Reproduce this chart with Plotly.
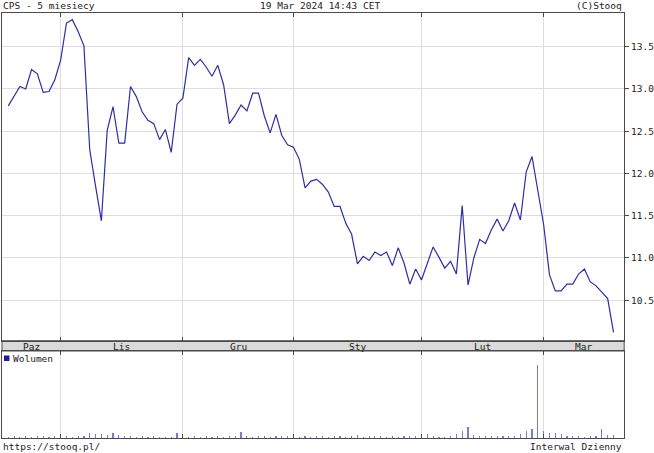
import pandas as pd
import plotly.graph_objects as go

# ---- data ----
close_prices = [
    12.80, 12.91, 13.03, 13.00, 13.23, 13.18, 12.96, 12.97, 13.11, 13.34,
    13.78, 13.82, 13.68, 13.51, 12.28, 11.85, 11.44, 12.51, 12.79, 12.36,
    12.36, 13.03, 12.91, 12.73, 12.63, 12.59, 12.40, 12.52, 12.25, 12.82,
    12.89, 13.37, 13.28, 13.35, 13.26, 13.15, 13.28, 13.05, 12.59, 12.69,
    12.81, 12.74, 12.95, 12.95, 12.68, 12.48, 12.70, 12.45, 12.34, 12.31,
    12.17, 11.83, 11.91, 11.93, 11.87, 11.78, 11.61, 11.61, 11.41, 11.28,
    10.93, 11.02, 10.97, 11.07, 11.03, 11.07, 10.91, 11.12, 10.94, 10.69,
    10.87, 10.74, 10.93, 11.13, 11.01, 10.88, 10.96, 10.81, 11.62, 10.68,
    11.00, 11.22, 11.17, 11.33, 11.46, 11.32, 11.44, 11.65, 11.45, 12.02,
    12.20, 11.77, 11.39, 10.80, 10.61, 10.61, 10.69, 10.69, 10.81, 10.87,
    10.72, 10.67, 10.59, 10.52, 10.12,
]
volume = [
    1.5, 2.0, 1.5, 2.0, 1.5, 2.0, 2.0, 1.5, 2.0, 1.5,
    2.0, 1.5, 2.5, 2.5, 5.5, 4.5, 4.0, 3.0, 5.0, 3.0,
    2.0, 2.5, 1.5, 2.0, 1.5, 2.0, 1.2, 1.2, 1.5, 5.0,
    2.0, 1.5, 2.0, 1.5, 2.0, 1.5, 2.0, 1.5, 2.0, 2.5,
    6.5, 2.0, 1.5, 2.0, 2.0, 1.5, 2.0, 2.0, 2.5, 2.0,
    1.5, 2.5, 1.5, 2.0, 2.0, 1.5, 2.5, 2.0, 1.5, 2.0,
    3.3, 1.5, 2.0, 2.0, 2.5, 1.5, 2.0, 1.5, 2.5, 2.0,
    2.5, 3.3, 4.0, 2.0, 1.5, 1.5, 2.0, 4.0, 7.3, 10.7,
    3.3, 2.5, 2.0, 2.5, 2.0, 2.0, 2.5, 2.5, 4.0, 6.7,
    9.3, 73.0, 7.3, 5.3, 4.7, 4.0, 2.5, 2.5, 2.0, 1.5,
    2.5, 2.5, 8.7, 3.3, 2.7,
]
month_names = ["Paz", "Lis", "Gru", "Sty", "Lut", "Mar"]
price_ticks = [10.5, 11.0, 11.5, 12.0, 12.5, 13.0, 13.5]
holidays = ["2023-11-01", "2023-12-25", "2023-12-26", "2024-01-01"]

# trading calendar
days = pd.bdate_range("2023-10-19", "2024-03-19")
days = days[~days.isin(pd.to_datetime(holidays))]
idx = list(range(len(days)))

month_keys = days.to_period("M")
boundaries = [i for i in idx[1:] if month_keys[i] != month_keys[i - 1]]

X_LO, X_HI = -1.08, 105.83
edges = [X_LO] + boundaries + [X_HI]
centers = [(edges[k] + edges[k + 1]) / 2 for k in range(len(edges) - 1)]

W, H = 654, 453
def py(p):  # pixel y -> paper
    return (H - p) / H
def px(p):
    return p / W

MONO = "DejaVu Sans Mono"
TXT = "#222222"
BORDER = "#4a4a4a"
GRID = "#dedede"
FS = 9.5

fig = go.Figure()
fig.add_trace(go.Scatter(x=idx, y=close_prices, mode="lines",
                         line=dict(color="#2d2da6", width=1.2),
                         xaxis="x", yaxis="y", hoverinfo="skip", showlegend=False))
fig.add_trace(go.Bar(x=idx, y=volume, width=0.2,
                     marker=dict(color="#7a7ad0", line=dict(width=0)),
                     xaxis="x2", yaxis="y2", hoverinfo="skip", showlegend=False))

xdom = [px(2), px(628)]
main_dom = [py(340.7), py(12.5)]
band_bottom = py(351)
vol_dom = [py(438), band_bottom]

common_x = dict(range=[X_LO, X_HI], tickvals=boundaries, showticklabels=False,
                showgrid=True, gridcolor=GRID, gridwidth=1, zeroline=False,
                showline=True, mirror="ticks", linecolor=BORDER, linewidth=1,
                ticks="inside", ticklen=4, tickcolor=BORDER, domain=xdom)

fig.update_layout(
    width=W, height=H, autosize=False,
    margin=dict(l=0, r=0, t=0, b=0),
    paper_bgcolor="white", plot_bgcolor="white",
    bargap=0, hovermode=False,
    xaxis=dict(anchor="y", **common_x),
    xaxis2=dict(anchor="y2", matches="x", **common_x),
    yaxis=dict(domain=main_dom, range=[10.021, 13.905], side="right",
               tickvals=price_ticks, ticktext=[f"{v:.1f}" for v in price_ticks],
               ticks="outside", ticklen=4, tickcolor=BORDER,
               tickfont=dict(family=MONO, size=FS, color=TXT),
               showgrid=True, gridcolor=GRID, zeroline=False,
               showline=True, mirror=True, linecolor=BORDER, linewidth=1),
    yaxis2=dict(domain=vol_dom, range=[0, 87], showticklabels=False,
                showgrid=False, zeroline=False, ticks="",
                showline=True, mirror=True, linecolor=BORDER, linewidth=1),
)

# month label band
fig.add_shape(type="rect", xref="paper", yref="paper",
              x0=xdom[0], x1=xdom[1], y0=band_bottom, y1=main_dom[0],
              fillcolor="#dadada", line=dict(color=BORDER, width=1), layer="below")
for name, c in zip(month_names, centers):
    fig.add_annotation(x=c, y=py(346), xref="x", yref="paper", text=name,
                       showarrow=False, font=dict(family=MONO, size=FS, color=TXT),
                       xanchor="center", yanchor="middle")

# volume legend
fig.add_shape(type="rect", xref="paper", yref="paper",
              x0=px(4), x1=px(9.5), y0=py(361), y1=py(355.5),
              fillcolor="#1c1c9a", line=dict(width=0))
fig.add_annotation(x=px(11), y=py(358), xref="paper", yref="paper", text="Wolumen",
                   showarrow=False, font=dict(family=MONO, size=FS, color=TXT),
                   xanchor="left", yanchor="middle")

# header / footer
def label(text, x, y, anchor):
    fig.add_annotation(x=px(x), y=py(y), xref="paper", yref="paper", text=text,
                       showarrow=False, font=dict(family=MONO, size=FS, color=TXT),
                       xanchor=anchor, yanchor="middle")

label("CPS - 5 miesiecy", 1, 5.5, "left")
label("19 Mar 2024 14:43 CET", 322, 5.5, "center")
label("(C)Stooq", 628, 5.5, "right")
label("https://stooq.pl/", 1, 446, "left")
label("Interwal Dzienny", 628, 446, "right")

fig.write_html("out.html",
               config={"displayModeBar": False, "staticPlot": True},
               post_script="document.body.style.margin='0';document.body.style.overflow='hidden';")
